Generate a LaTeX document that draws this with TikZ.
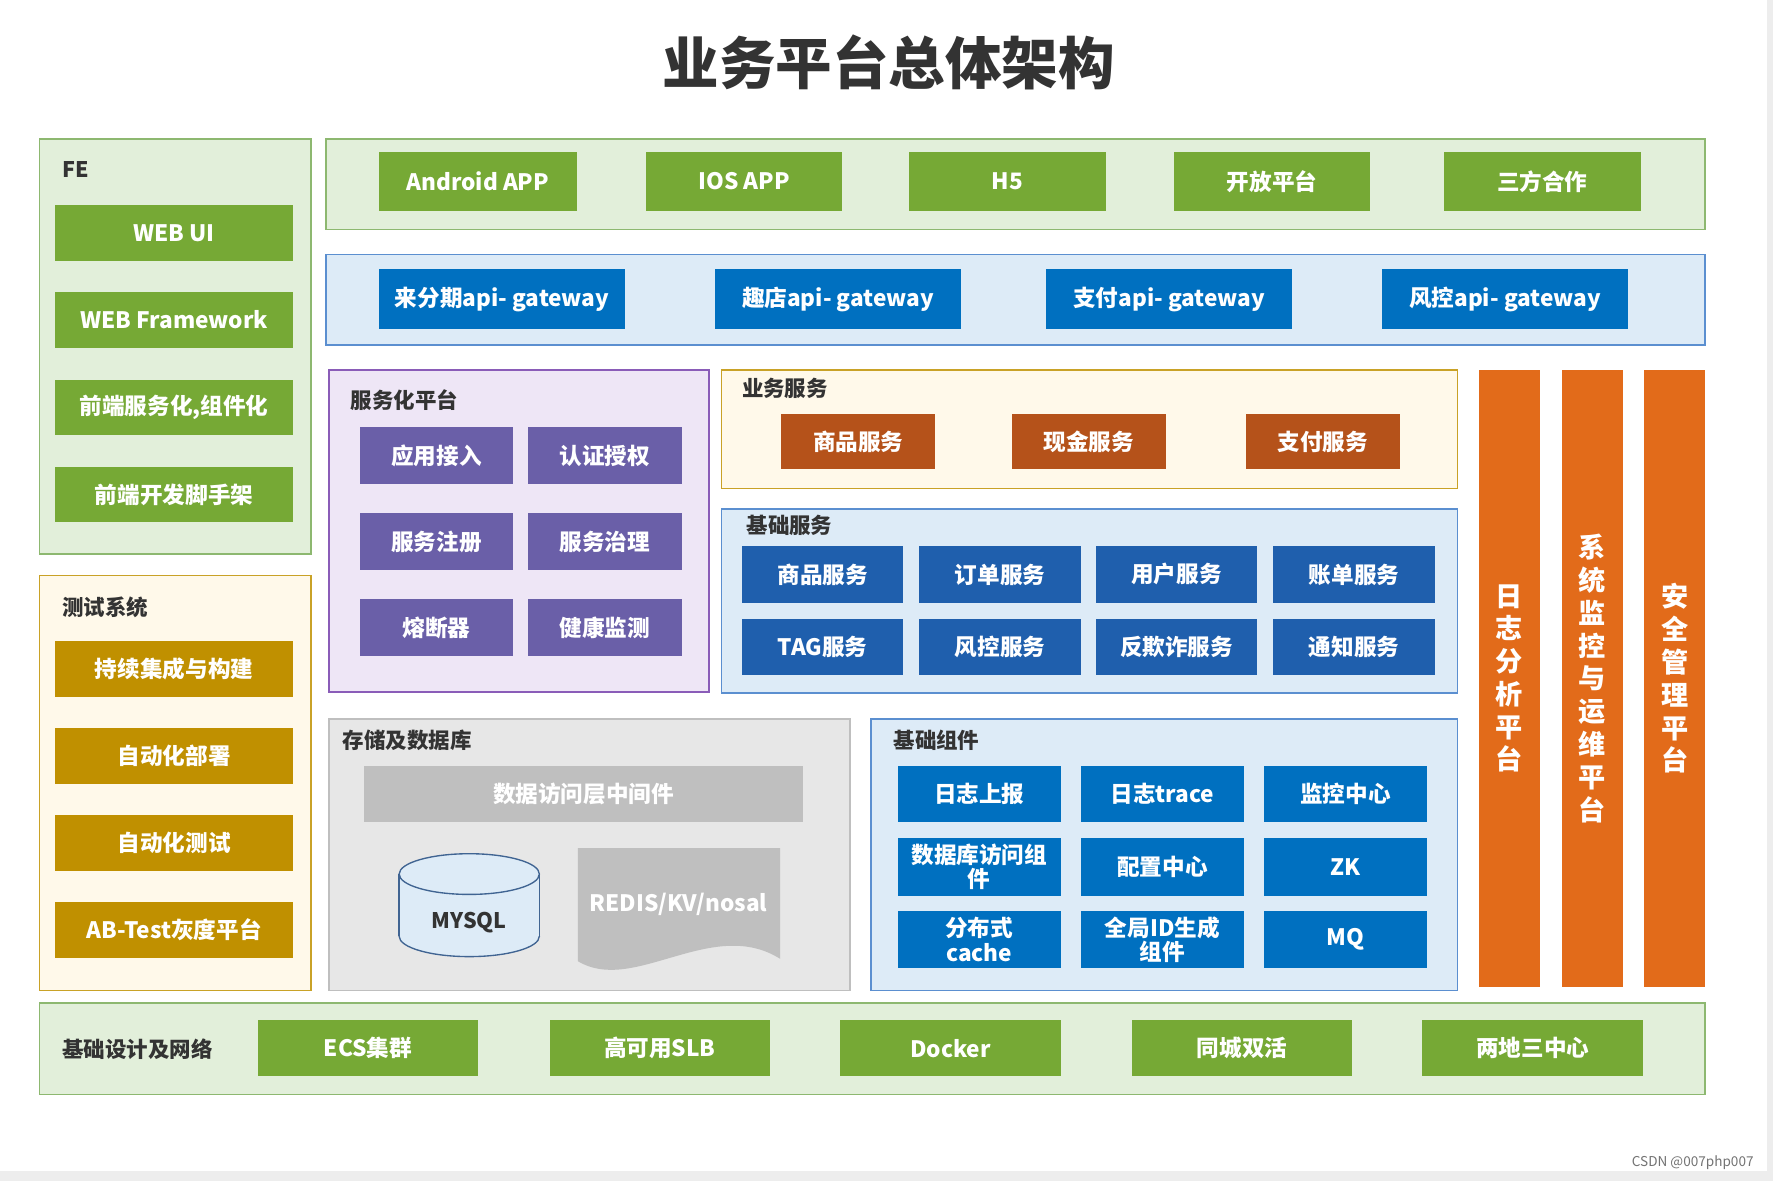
\documentclass[tikz,border=0pt]{standalone}
\usepackage{fontspec}
\setmainfont{Noto Sans CJK SC}
\definecolor{grn}{HTML}{76A935}
\definecolor{grnbg}{HTML}{E2EFDA}
\definecolor{grnln}{HTML}{8DB870}
\definecolor{gw}{HTML}{0070C0}
\definecolor{bluebg}{HTML}{DDEBF7}
\definecolor{blueln}{HTML}{5B8FD0}
\definecolor{purbg}{HTML}{EEE6F6}
\definecolor{purln}{HTML}{8A5CB8}
\definecolor{pur}{HTML}{6A5FA8}
\definecolor{cream}{HTML}{FFF9EA}
\definecolor{creamln}{HTML}{C9A227}
\definecolor{brn}{HTML}{B5521A}
\definecolor{dblue}{HTML}{1F5FAD}
\definecolor{graybg}{HTML}{E7E7E7}
\definecolor{graybox}{HTML}{BFBFBF}
\definecolor{org}{HTML}{E26B1A}
\definecolor{ylw}{HTML}{C09000}
\newcommand\bx[7]{\node[#6, minimum width={#4pt-#2pt}, minimum height={#5pt-#3pt}] (#1) at ({(#2+#4)/2},{(#3+#5)/2}) {#7};}
\newcommand\panel[6]{\draw[#6, line width=1.5pt] (#2,#3) rectangle (#4,#5); \coordinate (#1) at (#2,#3);}
\tikzset{
  box/.style={inner sep=0pt, text=white, font=\bfseries\fontsize{20}{22}\selectfont, align=center},
  bgreen/.style={box, fill=grn}, bgw/.style={box, fill=gw}, bpur/.style={box, fill=pur},
  bbrn/.style={box, fill=brn}, bdb/.style={box, fill=dblue}, bylw/.style={box, fill=ylw},
  borg/.style={box, fill=org, font=\bfseries\fontsize{24}{29}\selectfont},
  lbl/.style={anchor=west, inner sep=0pt, font=\bfseries\fontsize{19}{21}\selectfont, text=black!80},
}
\begin{document}
\begin{tikzpicture}[x=1pt,y=-1pt]
\fill[black!7] (0,0) rectangle (1568,1044);
\fill[white] (0,0) rectangle (1563,1036);
\useasboundingbox (0,0) rectangle (1568,1044);
\node[font=\bfseries\fontsize{50}{54}\selectfont, text=black!80] (title) at (786,55) {业务平台总体架构};
% FE
\panel{fe}{35}{123}{275}{490}{fill=grnbg, draw=grnln}
\node[lbl] (fel) at (55,150) {FE};
\bx{f1}{49}{181}{259}{231}{bgreen}{WEB UI}
\bx{f2}{49}{258}{259}{308}{bgreen}{WEB Framework}
\bx{f3}{49}{336}{259}{385}{bgreen}{前端服务化,组件化}
\bx{f4}{49}{413}{259}{462}{bgreen}{前端开发脚手架}
% test
\panel{ts}{35}{509}{275}{876}{fill=cream, draw=creamln}
\node[lbl] (tsl) at (55,537) {测试系统};
\bx{t1}{49}{567}{259}{616}{bylw}{持续集成与构建}
\bx{t2}{49}{644}{259}{693}{bylw}{自动化部署}
\bx{t3}{49}{721}{259}{770}{bylw}{自动化测试}
\bx{t4}{49}{798}{259}{847}{bylw}{AB-Test灰度平台}
% top
\panel{tp}{288}{123}{1508}{203}{fill=grnbg, draw=grnln}
\bx{a1}{335}{134}{510}{187}{bgreen}{Android APP}
\bx{a2}{571}{134}{745}{187}{bgreen}{IOS APP}
\bx{a3}{804}{134}{978}{187}{bgreen}{H5}
\bx{a4}{1038}{134}{1212}{187}{bgreen}{开放平台}
\bx{a5}{1277}{134}{1451}{187}{bgreen}{三方合作}
% gateway
\panel{gp}{288}{225}{1508}{305}{fill=bluebg, draw=blueln}
\bx{g1}{335}{238}{553}{291}{bgw}{来分期api- gateway}
\bx{g2}{632}{238}{850}{291}{bgw}{趣店api- gateway}
\bx{g3}{925}{238}{1143}{291}{bgw}{支付api- gateway}
\bx{g4}{1222}{238}{1440}{291}{bgw}{风控api- gateway}
% service platform
\panel{sp}{291}{327}{627}{612}{fill=purbg, draw=purln}
\node[lbl] (spl) at (310,354) {服务化平台};
\bx{s1}{318}{378}{454}{428}{bpur}{应用接入}
\bx{s2}{467}{378}{603}{428}{bpur}{认证授权}
\bx{s3}{318}{454}{454}{504}{bpur}{服务注册}
\bx{s4}{467}{454}{603}{504}{bpur}{服务治理}
\bx{s5}{318}{530}{454}{580}{bpur}{熔断器}
\bx{s6}{467}{530}{603}{580}{bpur}{健康监测}
% business
\panel{bp}{638}{327}{1289}{432}{fill=cream, draw=creamln}
\node[lbl] (bpl) at (656,343) {业务服务};
\bx{b1}{691}{366}{827}{415}{bbrn}{商品服务}
\bx{b2}{895}{366}{1031}{415}{bbrn}{现金服务}
\bx{b3}{1102}{366}{1238}{415}{bbrn}{支付服务}
% basic services
\panel{jp}{638}{450}{1289}{613}{fill=bluebg, draw=blueln}
\node[lbl] (jpl) at (660,465) {基础服务};
\bx{j1}{656}{483}{799}{533}{bdb}{商品服务}
\bx{j2}{813}{483}{956}{533}{bdb}{订单服务}
\bx{j3}{969}{483}{1112}{533}{bdb}{用户服务}
\bx{j4}{1126}{483}{1269}{533}{bdb}{账单服务}
\bx{j5}{656}{547}{799}{597}{bdb}{TAG服务}
\bx{j6}{813}{547}{956}{597}{bdb}{风控服务}
\bx{j7}{969}{547}{1112}{597}{bdb}{反欺诈服务}
\bx{j8}{1126}{547}{1269}{597}{bdb}{通知服务}
% storage
\panel{cp}{291}{636}{752}{876}{fill=graybg, draw=graybox}
\node[lbl] (cpl) at (303,655) {存储及数据库};
\bx{c1}{322}{677}{710}{727}{box, fill=graybox}{数据访问层中间件}
\filldraw[fill=bluebg, draw=blueln!70!black, line width=1.2pt] (415,828) ellipse[x radius=62, y radius=18];
\fill[bluebg] (353,773) rectangle (477,828);
\draw[blueln!70!black, line width=1.2pt] (353,773) -- (353,828) (477,773) -- (477,828);
\filldraw[fill=bluebg, draw=blueln!70!black, line width=1.2pt] (415,773) ellipse[x radius=62, y radius=18];
\node[font=\bfseries\fontsize{19}{21}\selectfont, text=black!80] (my) at (415,816) {MYSQL};
\fill[graybox] (511,750) -- (690,750) -- (690,848) .. controls (630,810) and (560,880) .. (511,850) -- cycle;
\node[font=\bfseries\fontsize{20}{22}\selectfont, text=white] (rd) at (600,800) {REDIS/KV/nosal};
% components
\panel{kp}{770}{636}{1289}{876}{fill=bluebg, draw=blueln}
\node[lbl] (kpl) at (790,655) {基础组件};
\bx{k1}{794}{677}{938}{727}{bgw}{日志上报}
\bx{k2}{956}{677}{1100}{727}{bgw}{日志trace}
\bx{k3}{1118}{677}{1262}{727}{bgw}{监控中心}
\bx{k4}{794}{741}{938}{792}{bgw}{数据库访问组\\件}
\bx{k5}{956}{741}{1100}{792}{bgw}{配置中心}
\bx{k6}{1118}{741}{1262}{792}{bgw}{ZK}
\bx{k7}{794}{806}{938}{856}{bgw}{分布式\\cache}
\bx{k8}{956}{806}{1100}{856}{bgw}{全局ID生成\\组件}
\bx{k9}{1118}{806}{1262}{856}{bgw}{MQ}
% vertical
\bx{v1}{1308}{327}{1362}{873}{borg}{日\\志\\分\\析\\平\\台}
\bx{v2}{1381}{327}{1435}{873}{borg}{系\\统\\监\\控\\与\\运\\维\\平\\台}
\bx{v3}{1454}{327}{1508}{873}{borg}{安\\全\\管\\理\\平\\台}
% bottom
\panel{np}{35}{887}{1508}{968}{fill=grnbg, draw=grnln}
\node[lbl] (npl) at (55,928) {基础设计及网络};
\bx{n1}{228}{902}{423}{952}{bgreen}{ECS集群}
\bx{n2}{486}{902}{681}{952}{bgreen}{高可用SLB}
\bx{n3}{743}{902}{938}{952}{bgreen}{Docker}
\bx{n4}{1001}{902}{1196}{952}{bgreen}{同城双活}
\bx{n5}{1258}{902}{1453}{952}{bgreen}{两地三中心}
\node[font=\fontsize{12}{13}\selectfont, text=black!55] (ft) at (1497,1028) {CSDN @007php007};
\end{tikzpicture}
\end{document}
